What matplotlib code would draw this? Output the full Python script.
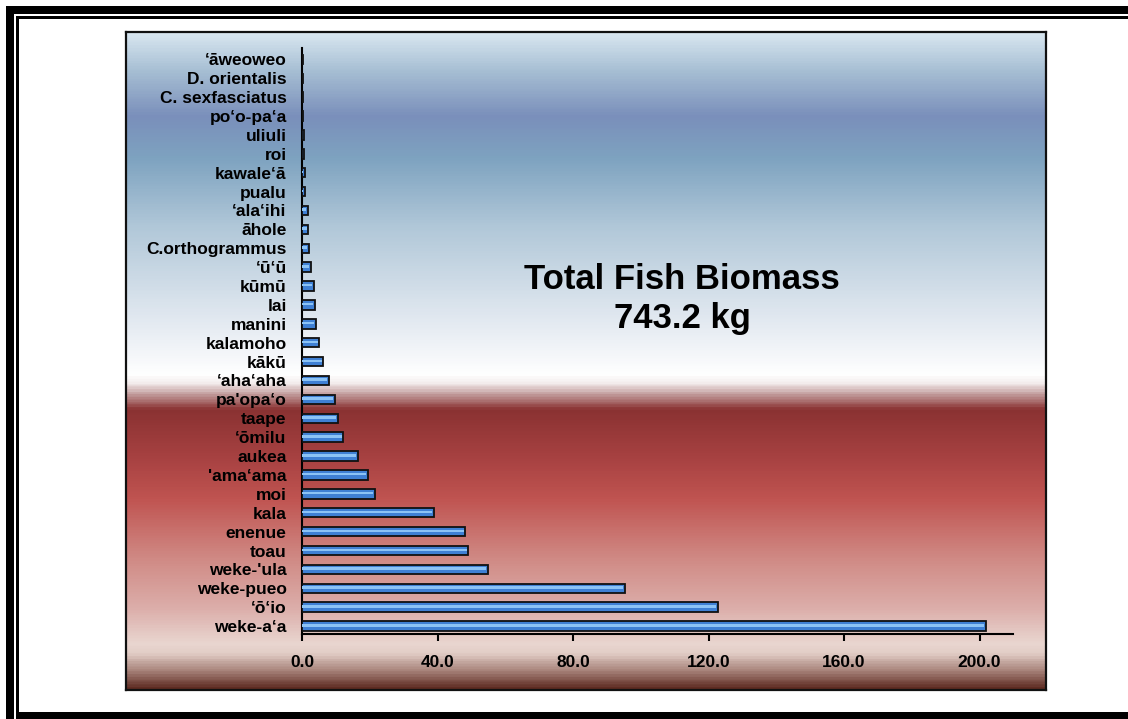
import numpy as np
import matplotlib.pyplot as plt
from matplotlib.colors import LinearSegmentedColormap
from matplotlib.patches import Rectangle

plt.rcParams['font.family'] = ['Liberation Sans', 'DejaVu Sans']
plt.rcParams['font.weight'] = 'bold'

# ======================
# Data (bottom bar first)
# ======================
species = [
    "weke-a\u2018a", "\u2018\u014d\u2018io", "weke-pueo", "weke-'ula", "toau",
    "enenue", "kala", "moi", "'ama\u2018ama", "aukea",
    "\u2018\u014dmilu", "taape", "pa'opa\u2018o", "\u2018aha\u2018aha", "k\u0101k\u016b",
    "kalamoho", "manini", "lai", "k\u016bm\u016b", "\u2018\u016b\u2018\u016b",
    "C.orthogrammus", "\u0101hole", "\u2018ala\u2018ihi", "pualu", "kawale\u2018\u0101",
    "roi", "uliuli", "po\u2018o-pa\u2018a", "C. sexfasciatus", "D. orientalis",
    "\u2018\u0101weoweo",
]
biomass_kg = [
    201.8, 122.8, 95.3, 54.8, 49.1,
    48.2, 39.0, 21.5, 19.4, 16.4,
    12.2, 10.5, 9.6, 8.0, 6.3,
    5.1, 4.1, 3.7, 3.4, 2.6,
    2.0, 1.9, 1.7, 0.9, 0.8,
    0.6, 0.5, 0.3, 0.3, 0.2,
    0.2,
]
x_ticks = [0, 40, 80, 120, 160, 200]
title_lines = ["Total Fish Biomass", "743.2 kg"]

# ======================
# Figure + frame
# ======================
W, H = 1128, 719
fig = plt.figure(figsize=(W / 100, H / 100), dpi=100)
fig.patch.set_facecolor("white")


def px_box(x0, y0, x1, y1):
    # pixel box (top-left origin) -> figure fraction [left, bottom, width, height]
    return [x0 / W, 1 - y1 / H, (x1 - x0) / W, (y1 - y0) / H]


frame_strips = [
    (6, 6, 14, 719),      # thick left
    (6, 6, 1128, 14),     # thick top
    (16, 16, 18.5, 719),  # thin left
    (16, 16, 1128, 18.5), # thin top
    (16, 712, 1128, 719), # bottom
]
for x0, y0, x1, y1 in frame_strips:
    l, b, w, h = px_box(x0, y0, x1, y1)
    fig.add_artist(Rectangle((l, b), w, h, transform=fig.transFigure,
                             facecolor="black", edgecolor="none"))

# ======================
# Gradient panel
# ======================
panel_stops = [
    (0.000, "#d8e6f0"), (0.055, "#a8c0d4"), (0.126, "#7a8fbb"),
    (0.191, "#7ea3c0"), (0.293, "#b0c7d8"), (0.445, "#e5ebf2"),
    (0.521, "#ffffff"), (0.533, "#f4eeee"), (0.552, "#c09898"),
    (0.574, "#8a3232"), (0.650, "#a84242"), (0.711, "#c05451"),
    (0.802, "#d08a85"), (0.878, "#dcaeaa"), (0.932, "#e9d6d0"),
    (0.947, "#e2cdc6"), (0.974, "#a58077"), (1.000, "#5c2a20"),
]
cmap = LinearSegmentedColormap.from_list("panel", panel_stops)

bg = fig.add_axes(px_box(126, 32, 1046, 690))
bg.imshow(np.linspace(0, 1, 700).reshape(-1, 1), cmap=cmap, aspect="auto",
          extent=[0, 1, 0, 1], origin="upper", interpolation="bilinear")
bg.set_xticks([])
bg.set_yticks([])
for s in bg.spines.values():
    s.set_linewidth(1.6)
    s.set_color("#111111")

# ======================
# Bars
# ======================
ax = fig.add_axes([302 / W, 1 - 634 / H, 711.4 / W, (634 - 48) / H])
ax.patch.set_alpha(0)

y = np.arange(len(species))
vals = np.array(biomass_kg)
ax.barh(y, vals, height=0.5, color="#3f80d4", edgecolor="#111111",
        linewidth=1.3, zorder=3)
ax.barh(y + 0.04, np.maximum(vals - 0.5, 0), height=0.13, color="#8cc3f5",
        linewidth=0, zorder=4)

ax.set_xlim(0, 210)
ax.set_ylim(-0.42, 30.6)
ax.set_yticks(y, species)
ax.set_xticks(x_ticks, [f"{v:.1f}" for v in x_ticks])
ax.tick_params(axis="y", length=0, pad=11, labelsize=12.5)
ax.tick_params(axis="x", length=5, width=1.5, pad=10, labelsize=12.5,
               direction="out")
for side in ("top", "right"):
    ax.spines[side].set_visible(False)
for side in ("left", "bottom"):
    ax.spines[side].set_linewidth(1.5)

# ======================
# Title block
# ======================
fig.text(682 / W, 1 - 289 / H, title_lines[0], ha="center", va="baseline",
         fontsize=25, fontweight="bold")
fig.text(682 / W, 1 - 328 / H, title_lines[1], ha="center", va="baseline",
         fontsize=25, fontweight="bold")

fig.savefig("out.png", dpi=100)
